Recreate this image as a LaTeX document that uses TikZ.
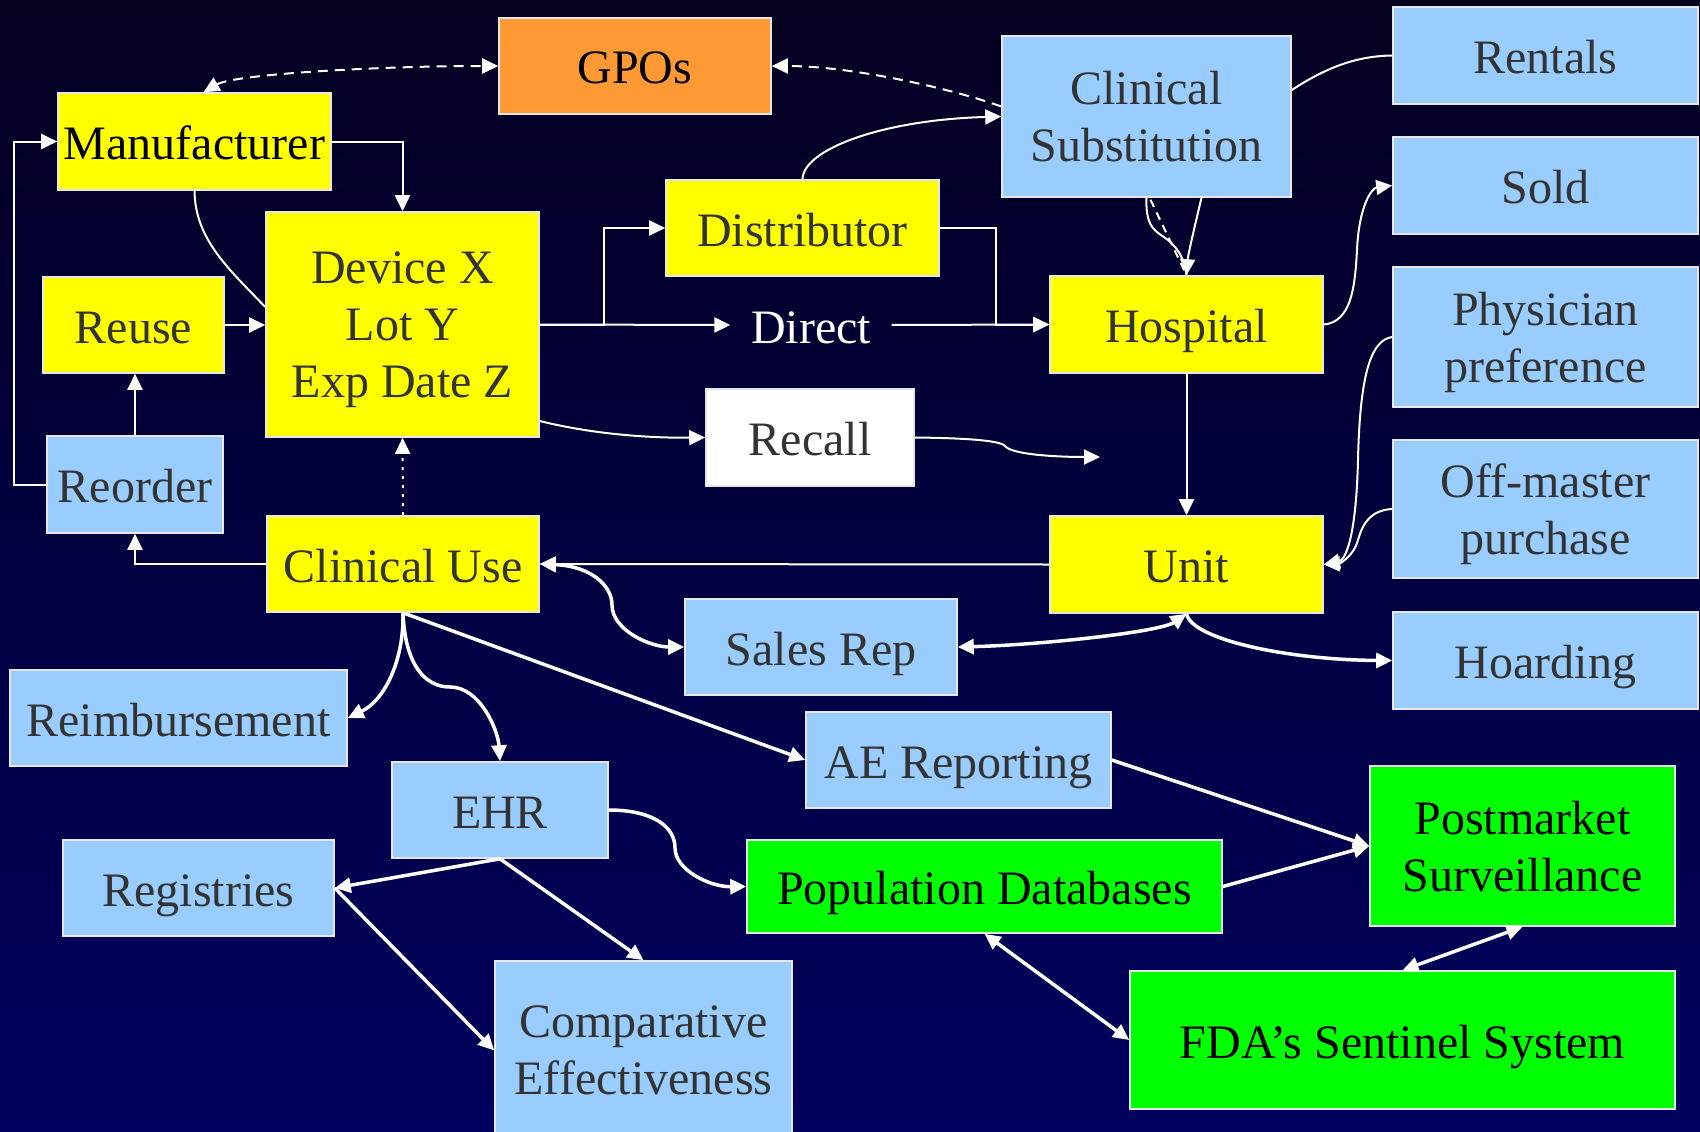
\documentclass[tikz,border=0pt]{standalone}
\usepackage{fontspec}
\setmainfont{Liberation Serif}
\usetikzlibrary{arrows.meta}
\definecolor{bgtop}{HTML}{030020}
\definecolor{bgbot}{HTML}{00005E}
\definecolor{ylw}{HTML}{FFFF00}
\definecolor{lblue}{HTML}{99CCFF}
\definecolor{orng}{HTML}{FF9933}
\definecolor{grn}{HTML}{00FF00}
\definecolor{dtxt}{HTML}{333333}
\definecolor{bord}{HTML}{E6E6E6}
\begin{document}
\begin{tikzpicture}[x=1pt,y=-1pt,
  box/.style={draw=bord, line width=1.6pt, inner sep=0pt, align=center, font=\fontsize{48}{57}\selectfont, text=dtxt, text depth=0pt},
  oneline/.style={text height=36pt},
  ybox/.style={box, fill=ylw},
  bbox/.style={box, fill=lblue},
  gbox/.style={box, fill=grn, text=black},
  ln/.style={draw=white, line width=2pt},
  lnb/.style={draw=white, line width=3.5pt},
  >={Triangle[length=16pt,width=15pt]},
]
\path[use as bounding box] (0,0) rectangle (1700,1132);
\clip (0,0) rectangle (1700,1132);
\shade[top color=bgtop, bottom color=bgbot] (0,0) rectangle (1700,1132);

% nodes
\node[box, oneline, fill=orng, text=black, minimum width=272pt, minimum height=96pt] (gpo) at (635,66) {GPOs};
\node[ybox, oneline, text=black, minimum width=273pt, minimum height=97pt] (manu) at (194.5,141.5) {Manufacturer};
\node[ybox, minimum width=273pt, minimum height=225pt] (dev) at (402.5,324.5) {Device X\\Lot Y\\Exp Date Z};
\node[ybox, oneline, minimum width=181pt, minimum height=96pt] (reuse) at (133.5,325) {Reuse};
\node[bbox, oneline, minimum width=176pt, minimum height=97pt] (reorder) at (135,484.5) {Reorder};
\node[ybox, oneline, minimum width=273pt, minimum height=96pt] (dist) at (802.5,228) {Distributor};
\node[inner sep=0pt, minimum width=161pt, minimum height=60pt, text=white, font=\fontsize{48}{57}\selectfont, text height=36pt, text depth=0pt] (direct) at (811,325) {Direct};
\node[box, oneline, fill=white, minimum width=208pt, minimum height=97pt] (recall) at (810,437.5) {Recall};
\node[ybox, oneline, minimum width=272pt, minimum height=96pt] (cuse) at (403,564) {Clinical Use};
\node[bbox, minimum width=289pt, minimum height=161pt] (csub) at (1146.5,116.5) {Clinical\\Substitution};
\node[bbox, oneline, minimum width=305pt, minimum height=97pt] (rent) at (1545.5,55.5) {Rentals};
\node[bbox, oneline, minimum width=305pt, minimum height=97pt] (sold) at (1545.5,185.5) {Sold};
\node[bbox, minimum width=305pt, minimum height=140pt] (phys) at (1545.5,337) {Physician\\preference};
\node[bbox, minimum width=305pt, minimum height=138pt] (offm) at (1545.5,509) {Off-master\\purchase};
\node[ybox, oneline, minimum width=273pt, minimum height=97pt] (hosp) at (1186.5,324.5) {Hospital};
\node[ybox, oneline, minimum width=273pt, minimum height=97pt] (unit) at (1186.5,564.5) {Unit};
\node[bbox, oneline, minimum width=305pt, minimum height=97pt] (hoard) at (1545.5,660.5) {Hoarding};
\node[bbox, oneline, minimum width=272pt, minimum height=96pt] (sales) at (821,647) {Sales Rep};
\node[bbox, oneline, minimum width=337pt, minimum height=96pt] (reimb) at (178.5,718) {Reimbursement};
\node[bbox, oneline, minimum width=305pt, minimum height=96pt] (ae) at (958.5,760) {AE Reporting};
\node[bbox, oneline, minimum width=216pt, minimum height=96pt] (ehr) at (500,810) {EHR};
\node[bbox, oneline, minimum width=271pt, minimum height=96pt] (reg) at (198.5,888) {Registries};
\node[gbox, oneline, minimum width=475pt, minimum height=93pt] (pop) at (984.5,886.5) {Population Databases};
\node[bbox, minimum width=297pt, minimum height=179pt] (comp) at (643.5,1050.5) {Comparative\\Effectiveness};
\node[gbox, minimum width=305pt, minimum height=160pt] (post) at (1522.5,846) {Postmarket\\Surveillance};
\node[gbox, oneline, minimum width=545pt, minimum height=138pt] (fda) at (1402.5,1040) {FDA’s Sentinel System};
\coordinate (rend) at (1100,457);

% upper connectors (thin)
\draw[ln, <->, dash pattern=on 10pt off 7pt] ([xshift=9pt]manu.north) .. controls (235,74) and (380,66) .. (gpo.west);
\draw[ln, ->, dash pattern=on 10pt off 7pt] ([yshift=10pt]csub.west) .. controls (950,88) and (850,66) .. (gpo.east);
\draw[ln, ->] (manu.east) -| (dev.north);
\draw[ln] (manu.south) .. controls (195,240) and (230,270) .. ([yshift=17.5pt]dev.west);
\draw[ln, ->] (reuse.east) -- (reuse.east -| dev.west);
\draw[ln, ->] (reorder.north) -- (reorder.north |- reuse.south);
\draw[ln, ->] (reorder.west) -- ++(-32,0) |- (manu.west);
\draw[ln, ->] (cuse.west) -| (reorder.south);
\draw[ln, ->, dash pattern=on 3pt off 6pt] (cuse.north) -- (dev.south);
\draw[ln, ->] (dev.east) -- ++(64,0) |- (dist.west);
\draw[ln, ->] (dev.east) -- (direct.west);
\draw[ln, ->] (direct.east) -- (hosp.west);
\draw[ln, ->] (dist.east) -- ++(56,0) |- (hosp.west);
\draw[ln, ->] (dist.north) .. controls (803,150) and (880,120) .. (csub.west);
\draw[ln, ->] ([xshift=55pt]csub.south) .. controls (1195,225) and (1188,255) .. (hosp.north);
\draw[ln] (csub.south) .. controls (1145,230) and (1158,232) .. (1168,240) .. controls (1180,250) and (1185,262) .. (hosp.north);
\draw[ln, dash pattern=on 8pt off 6pt] ([xshift=4pt,yshift=-2pt]csub.south) -- (hosp.north);
\draw[ln] ([yshift=26.5pt]csub.east) .. controls (1330,65) and (1360,56) .. (rent.west);
\draw[ln, ->] (hosp.east) .. controls (1352,322) and (1355,285) .. (1357,250) .. controls (1359,205) and (1372,188) .. (sold.west);
\draw[ln, ->] (phys.west) .. controls (1372,340) and (1360,370) .. (1358,460) .. controls (1356,540) and (1345,560) .. (unit.east);
\draw[ln, ->] (offm.west) .. controls (1370,510) and (1362,525) .. (1358,540) .. controls (1353,558) and (1338,564) .. (unit.east);
\draw[ln, ->] (hosp.south) -- (unit.north);
\draw[ln, ->] (recall.east) .. controls (960,438) and (1000,440) .. (1005,446) .. controls (1012,455) and (1060,457) .. (rend);
\draw[ln, ->] ([yshift=-96.5pt]dev.east) .. controls (600,436) and (660,438) .. (recall.west);
\draw[ln, ->] (unit.west) -- (cuse.east);

% lower connectors (thick)
\draw[lnb, <->] (cuse.east) .. controls (590,566) and (612,585) .. (612,605) .. controls (612,630) and (650,647) .. (sales.west);
\draw[lnb, <->] (sales.east) .. controls (1040,645) and (1160,632) .. (unit.south);
\draw[lnb, ->] (unit.south) .. controls (1192,640) and (1290,660) .. (hoard.west);
\draw[lnb, ->] (cuse.south) .. controls (404,660) and (385,700) .. (reimb.east);
\draw[lnb, ->] (cuse.south) .. controls (405,665) and (425,687) .. (450,687) .. controls (480,687) and (498,730) .. (ehr.north);
\draw[lnb, ->] (cuse.south) -- (ae.west);
\draw[lnb, ->] (ehr.east) .. controls (650,810) and (675,825) .. (675,848) .. controls (675,870) and (710,887) .. (pop.west);
\draw[lnb, ->] (ehr.south) -- (reg.east);
\draw[lnb, ->] (ehr.south) -- (comp.north);
\draw[lnb, ->] (reg.east) -- (comp.west);
\draw[lnb, ->] (ae.east) -- (post.west);
\draw[lnb, ->] (pop.east) -- (post.west);
\draw[lnb, <->] (pop.south) -- (fda.west);
\draw[lnb, <->] (post.south) -- (fda.north);
\end{tikzpicture}
\end{document}
